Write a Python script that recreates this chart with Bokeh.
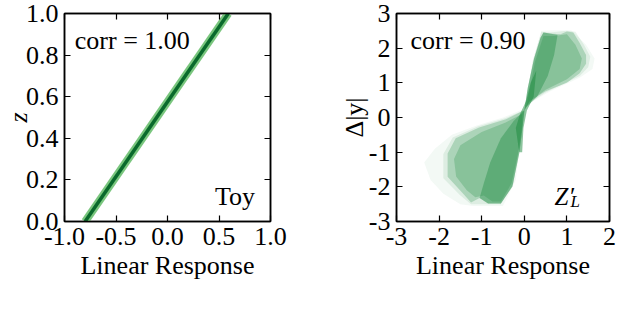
import math
from bokeh.plotting import figure
from bokeh.layouts import row
from bokeh.models import LinearAxis, FixedTicker, Range1d, Label
from bokeh.embed import file_html
from bokeh.resources import INLINE

FONT = "Liberation Serif"
FS = "26px"

# ---------------- data ----------------
# Left panel (Toy): narrow density ridge of z vs. linear response
toy_x = [-0.80, 0.59]
toy_z = [0.0, 1.0]
left_xticks = [-1.0, -0.5, 0.0, 0.5, 1.0]
left_xlabels = ["-1.0", "-0.5", "0.0", "0.5", "1.0"]
left_yticks = [0.0, 0.2, 0.4, 0.6, 0.8, 1.0]
left_ylabels = ["0.0", "0.2", "0.4", "0.6", "0.8", "1.0"]

# Right panel (Z'_L): density outline layers (data coordinates)
halo_lower_x = [0.0, -0.5, -1.1, -1.7, -2.1, -2.35, -2.2, -1.9, -1.5, -1.2, -0.5, -0.2]
halo_lower_y = [0.25, 0.0, -0.22, -0.5, -0.9, -1.3, -1.8, -2.2, -2.5, -2.55, -2.55, -1.8]
halo_upper_x = [0.0, 0.2, 0.4, 0.7, 1.1, 1.45, 1.65, 1.6, 1.3, 0.6, 0.1]
halo_upper_y = [0.2, 1.6, 2.5, 2.52, 2.52, 2.1, 1.7, 1.4, 1.15, 0.75, 0.4]

outer_lower_x = [0.02, -0.45, -1.08, -1.68, -1.9, -1.9, -1.5, -1.25, -0.55, -0.25, -0.08]
outer_lower_y = [0.22, -0.02, -0.25, -0.58, -1.05, -1.75, -2.25, -2.5, -2.5, -1.9, -0.5]
outer_upper_x = [0.0, 0.2, 0.4, 0.6, 1.0, 1.2, 1.4, 1.55, 1.5, 1.3, 0.5, 0.1]
outer_upper_y = [0.2, 1.65, 2.47, 2.45, 2.5, 2.47, 2.1, 1.75, 1.45, 1.2, 0.72, 0.4]

main_lower_x = [0.0, -0.04, -0.43, -1.06, -1.61, -1.80, -1.80, -1.45, -1.25, -1.05, -0.85, -0.55, -0.28, -0.12, -0.04]
main_lower_y = [0.2, 0.19, -0.05, -0.29, -0.6, -1.04, -1.71, -2.18, -2.45, -2.32, -2.48, -2.48, -1.99, -1.04, -0.29]
main_upper_x = [0.0, 0.08, 0.23, 0.38, 0.45, 0.6, 0.85, 1.0, 1.15, 1.3, 1.45, 1.45, 1.3, 1.0, 0.5, 0.12, 0.03]
main_upper_y = [0.2, 0.85, 1.7, 2.3, 2.45, 2.42, 2.4, 2.48, 2.45, 2.15, 1.8, 1.55, 1.28, 1.0, 0.76, 0.47, 0.28]

inset_lower_x = [-0.05, -0.45, -1.0, -1.5, -1.65, -1.6, -1.35, -1.15, -0.95, -0.75, -0.55, -0.3, -0.14, -0.06]
inset_lower_y = [0.1, -0.15, -0.42, -0.8, -1.2, -1.7, -2.1, -2.3, -2.25, -2.42, -2.42, -1.9, -1.0, -0.3]
inset_upper_x = [0.05, 0.25, 0.45, 0.7, 1.0, 1.2, 1.35, 1.3, 1.0, 0.5, 0.12]
inset_upper_y = [0.3, 1.6, 2.35, 2.35, 2.4, 2.1, 1.7, 1.4, 1.1, 0.8, 0.45]

finger_lower_x = [0.0, -0.04, -0.12, -0.28, -0.55, -0.85, -1.05, -0.95, -0.8, -0.55, -0.25]
finger_lower_y = [0.2, -0.29, -1.04, -1.99, -2.48, -2.48, -2.32, -1.9, -1.3, -0.6, -0.1]
finger_upper_x = [0.0, 0.08, 0.23, 0.38, 0.45, 0.6, 0.78, 0.7, 0.55, 0.3, 0.05]
finger_upper_y = [0.2, 0.85, 1.7, 2.3, 2.45, 2.42, 2.38, 1.8, 1.2, 0.6, 0.3]

core_x = [-0.12, -0.2, -0.1, 0.05, 0.15, 0.28, 0.22, 0.06, -0.02, -0.05]
core_y = [-1.0, -0.3, 0.1, 0.5, 1.0, 1.35, 0.6, 0.2, -0.3, -1.0]

right_xticks = [-3, -2, -1, 0, 1, 2]
right_xlabels = ["-3", "-2", "-1", "0", "1", "2"]
right_yticks = [-3, -2, -1, 0, 1, 2, 3]
right_ylabels = ["-3", "-2", "-1", "0", "1", "2", "3"]

GREEN = "#1b8a3e"


def style_axis(ax, ticks, labels):
    ax.ticker = FixedTicker(ticks=ticks)
    ax.major_tick_in = 6
    ax.major_tick_out = 0
    ax.minor_tick_in = 0
    ax.minor_tick_out = 0
    ax.axis_line_width = 1.5
    ax.axis_line_color = "black"
    ax.major_tick_line_width = 1.2
    ax.major_tick_line_color = "black"
    ax.major_label_overrides = {t: l for t, l in zip(ticks, labels)}
    ax.major_label_text_font = FONT
    ax.major_label_text_font_size = FS
    ax.major_label_text_color = "black"


def mirror_axis(ticks):
    # tick marks only (drawn as minor ticks, so no labels are produced)
    ax = LinearAxis(ticker=FixedTicker(ticks=[], minor_ticks=ticks))
    ax.major_tick_in = 0
    ax.major_tick_out = 0
    ax.minor_tick_in = 6
    ax.minor_tick_out = 0
    ax.minor_tick_line_width = 1.2
    ax.minor_tick_line_color = "black"
    ax.axis_line_width = 1.5
    ax.axis_line_color = "black"
    ax.major_label_standoff = 0
    return ax


def make_fig(xr, yr, xticks, xlabels, yticks, ylabels, bl, br):
    p = figure(width=312, height=300, x_range=Range1d(*xr), y_range=Range1d(*yr),
               output_backend="svg", toolbar_location=None,
               min_border_left=bl, min_border_right=br, min_border_top=13, min_border_bottom=79)
    p.grid.visible = False
    p.outline_line_color = "black"
    p.outline_line_width = 1.5
    p.background_fill_color = "white"
    p.border_fill_color = "white"
    style_axis(p.xaxis[0], xticks, xlabels)
    style_axis(p.yaxis[0], yticks, ylabels)
    p.xaxis[0].major_label_standoff = 6
    p.yaxis[0].major_label_standoff = 6
    p.xaxis[0].axis_label = "Linear Response"
    p.xaxis[0].axis_label_text_font = FONT
    p.xaxis[0].axis_label_text_font_size = FS
    p.xaxis[0].axis_label_text_font_style = "normal"
    p.xaxis[0].axis_label_text_color = "black"
    p.xaxis[0].axis_label_standoff = 3
    p.yaxis[0].axis_label_text_font = FONT
    p.yaxis[0].axis_label_text_color = "black"
    p.add_layout(mirror_axis(xticks), "above")
    p.add_layout(mirror_axis(yticks), "right")
    return p


# ---------- left ----------
p1 = make_fig((-1, 1), (0, 1), left_xticks, left_xlabels, left_yticks, left_ylabels, 59, 42)
p1.yaxis[0].axis_label = "z"
p1.yaxis[0].axis_label_text_font_style = "italic"
p1.yaxis[0].axis_label_text_font_size = "26px"
p1.yaxis[0].axis_label_standoff = -10
p1.line(toy_x, toy_z, line_width=8, line_color="#6cc070", line_alpha=0.9)
p1.line(toy_x, toy_z, line_width=3.5, line_color="#0a6a2c")
p1.add_layout(Label(x=-0.90, y=0.872, text="corr = 1.00", text_font=FONT, text_font_size=FS,
                    text_color="black", text_baseline="middle", text_align="left"))
p1.add_layout(Label(x=0.85, y=0.12, text="Toy", text_font=FONT, text_font_size=FS,
                    text_color="black", text_baseline="alphabetic", text_align="right"))

# ---------- right ----------
p2 = make_fig((-3, 2), (-3, 3), right_xticks, right_xlabels, right_yticks, right_ylabels, 84, 15)
p2.yaxis[0].axis_label = "Δ|y|"
p2.yaxis[0].axis_label_text_font_style = "normal"
p2.yaxis[0].axis_label_text_font_size = FS
p2.yaxis[0].axis_label_standoff = -3
p2.patches([halo_lower_x, halo_upper_x], [halo_lower_y, halo_upper_y],
           fill_color=GREEN, fill_alpha=0.05, line_color=None)
p2.patches([outer_lower_x, outer_upper_x], [outer_lower_y, outer_upper_y],
           fill_color=GREEN, fill_alpha=0.10, line_color=None)
p2.patches([main_lower_x, main_upper_x], [main_lower_y, main_upper_y],
           fill_color=GREEN, fill_alpha=0.25, line_color=None)
p2.patches([inset_lower_x, inset_upper_x], [inset_lower_y, inset_upper_y],
           fill_color=GREEN, fill_alpha=0.25, line_color=None)
p2.patches([finger_lower_x, finger_upper_x], [finger_lower_y, finger_upper_y],
           fill_color=GREEN, fill_alpha=0.38, line_color=None)
p2.patch(core_x, core_y, fill_color=GREEN, fill_alpha=0.5, line_color=None)

p2.add_layout(Label(x=-2.67, y=2.23, text="corr = 0.90", text_font=FONT, text_font_size=FS,
                    text_color="black", text_baseline="middle", text_align="left"))
p2.add_layout(Label(x=0.71, y=-2.28, text="Z′", text_font=FONT, text_font_size="25px",
                    text_color="black", text_font_style="italic",
                    text_baseline="alphabetic", text_align="left"))
p2.add_layout(Label(x=0.71, y=-2.28, x_offset=16, y_offset=-5, text="L", text_font=FONT,
                    text_font_size="17px", text_font_style="italic", text_color="black",
                    text_baseline="alphabetic", text_align="left"))

layout = row(p1, p2)
open("out.html", "w").write(file_html(layout, INLINE))
